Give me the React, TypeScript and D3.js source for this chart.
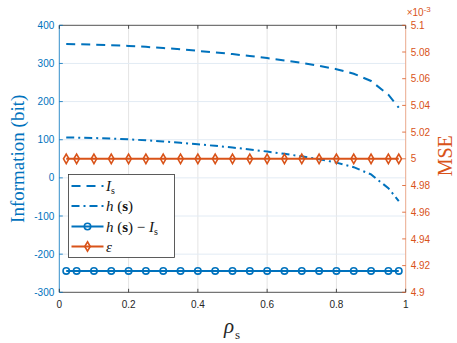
import React from 'react';
import * as d3 from 'd3';

// correlation coefficient samples
const rho = [0.02, 0.05, 0.1, 0.15, 0.2, 0.25, 0.3, 0.35, 0.4, 0.45, 0.5, 0.55, 0.6, 0.65, 0.7, 0.75, 0.8, 0.85, 0.9, 0.95, 0.98];
// I_s (bit)
const infoS = [351, 350.5, 349.5, 348, 346, 343.5, 340.5, 337, 333, 329, 324.5, 319.5, 314, 308, 301.5, 294, 285, 273, 254, 218, 184];
// h(s) (bit)
const entropyS = [106, 105.5, 104.5, 103, 101, 98.5, 95.5, 92, 88, 84, 79.5, 74.5, 69, 63, 56.5, 49, 40, 28, 9, -27, -61];
// h(s) - I_s (bit)
const diffS = [-244, -244, -244, -244, -244, -244, -244, -244, -244, -244, -244, -244, -244, -244, -244, -244, -244, -244, -244, -244, -244];
// MSE epsilon
const mse = [0.005, 0.005, 0.005, 0.005, 0.005, 0.005, 0.005, 0.005, 0.005, 0.005, 0.005, 0.005, 0.005, 0.005, 0.005, 0.005, 0.005, 0.005, 0.005, 0.005, 0.005];

const xTicks = [0, 0.2, 0.4, 0.6, 0.8, 1];
const leftTicks = [-300, -200, -100, 0, 100, 200, 300, 400];
const rightTicks = [4.9, 4.92, 4.94, 4.96, 4.98, 5, 5.02, 5.04, 5.06, 5.08, 5.1];

const BLUE = '#0072BD';
const ORANGE = '#D95319';
const AX = '#262626';
const SANS = '"Liberation Sans", Arial, Helvetica, sans-serif';
const SERIF = '"Liberation Serif", "Times New Roman", serif';

export default function App() {
  const W = 457, H = 343;
  const x0 = 59.3, x1 = 405.7, y0 = 292.3, y1 = 25.3;

  const x = d3.scaleLinear().domain([0, 1]).range([x0, x1]);
  const yL = d3.scaleLinear().domain([-300, 400]).range([y0, y1]);
  const yR = d3.scaleLinear().domain([4.9e-3, 5.1e-3]).range([y0, y1]);

  const lineL = (vals: number[]) =>
    d3.line<number>().x((_, i) => x(rho[i])).y(d => yL(d))(vals) || '';
  const lineR = (vals: number[]) =>
    d3.line<number>().x((_, i) => x(rho[i])).y(d => yR(d))(vals) || '';

  const diamond = d3.symbol(d3.symbolDiamond, 26)() || '';
  const tl = 3.5;

  const legendRows = [175 + 11, 175 + 31, 175 + 51.5, 175 + 71.5];
  const lgX0 = 71.5, lgX1 = 103.5, lgMid = (lgX0 + lgX1) / 2, lgText = 106;

  return (
    <svg width={W} height={H} style={{ position: 'absolute', left: 0, top: 0, background: '#fff' }}>
      {/* grid */}
      <g>
        {xTicks.slice(1, -1).map(t => (
          <line key={'gx' + t} x1={x(t)} x2={x(t)} y1={y0} y2={y1} stroke="#e4e4e4" strokeWidth={1} />
        ))}
        {leftTicks.slice(1, -1).map(t => (
          <line key={'gy' + t} x1={x0} x2={x1} y1={yL(t)} y2={yL(t)} stroke="#e2ebf4" strokeWidth={1} />
        ))}
      </g>

      {/* series */}
      <path d={lineL(infoS)} fill="none" stroke={BLUE} strokeWidth={2} strokeDasharray="9,6" />
      <path d={lineL(entropyS)} fill="none" stroke={BLUE} strokeWidth={2} strokeDasharray="8,4,2,4" />
      <path d={lineL(diffS)} fill="none" stroke={BLUE} strokeWidth={2} />
      {diffS.map((d, i) => (
        <circle key={'c' + i} cx={x(rho[i])} cy={yL(d)} r={3.2} fill="none" stroke={BLUE} strokeWidth={1.6} />
      ))}
      <path d={lineR(mse)} fill="none" stroke={ORANGE} strokeWidth={2} />
      {mse.map((d, i) => (
        <path key={'d' + i} d={diamond} transform={`translate(${x(rho[i])},${yR(d)})`} fill="none" stroke={ORANGE} strokeWidth={1.6} />
      ))}

      {/* axes box */}
      <line x1={x0} x2={x1} y1={y1} y2={y1} stroke={AX} strokeWidth={0.8} />
      <line x1={x0} x2={x1} y1={y0} y2={y0} stroke={AX} strokeWidth={0.8} />
      <line x1={x0} x2={x0} y1={y0} y2={y1} stroke={BLUE} strokeWidth={0.8} />
      <line x1={x1} x2={x1} y1={y0} y2={y1} stroke="#eaa98d" strokeWidth={1} />

      {/* x ticks */}
      {xTicks.map(t => (
        <g key={'xt' + t}>
          <line x1={x(t)} x2={x(t)} y1={y0} y2={y0 - tl} stroke={AX} strokeWidth={0.8} />
          <line x1={x(t)} x2={x(t)} y1={y1} y2={y1 + tl} stroke={AX} strokeWidth={0.8} />
          <text x={x(t)} y={y0 + 15.5} textAnchor="middle" fontFamily={SANS} fontSize={10} fill={AX}>{String(t)}</text>
        </g>
      ))}

      {/* left ticks */}
      {leftTicks.map(t => (
        <g key={'lt' + t}>
          <line x1={x0} x2={x0 + tl} y1={yL(t)} y2={yL(t)} stroke={BLUE} strokeWidth={0.8} />
          <text x={x0 - 5} y={yL(t) + 3.6} textAnchor="end" fontFamily={SANS} fontSize={10} fill={BLUE}>{String(t)}</text>
        </g>
      ))}

      {/* right ticks */}
      {rightTicks.map(t => (
        <g key={'rt' + t}>
          <line x1={x1} x2={x1 - tl} y1={yR(t / 1000)} y2={yR(t / 1000)} stroke={ORANGE} strokeWidth={0.8} />
          <text x={x1 + 5} y={yR(t / 1000) + 3.6} textAnchor="start" fontFamily={SANS} fontSize={10} fill={ORANGE}>{d3.format('~g')(t)}</text>
        </g>
      ))}
      <text x={x1 + 1} y={y1 - 9} fontFamily={SANS} fontSize={10} fill={ORANGE}>
        ×10<tspan dy={-4} fontSize={8}>-3</tspan>
      </text>

      {/* axis labels */}
      <text transform={`translate(24,${(y0 + y1) / 2}) rotate(-90)`} textAnchor="middle" fontFamily={SERIF} fontSize={19} fill={BLUE}>
        Information (bit)
      </text>
      <text transform={`translate(452,${(y0 + y1) / 2 - 3}) rotate(-90)`} textAnchor="middle" fontFamily={SERIF} fontSize={20} fill={ORANGE}>
        MSE
      </text>
      <text x={224} y={333} fontFamily={SERIF} fontSize={21} fontStyle="italic" fill={AX}>
        ρ<tspan dx={1} dy={6} fontSize={13} fontStyle="normal">s</tspan>
      </text>

      {/* legend */}
      <rect x={68.5} y={174.5} width={106} height={83} fill="#fff" stroke="#333" strokeWidth={0.8} />
      <line x1={lgX0} x2={lgX1} y1={legendRows[0]} y2={legendRows[0]} stroke={BLUE} strokeWidth={2} strokeDasharray="9,6" />
      <line x1={lgX0} x2={lgX1} y1={legendRows[1]} y2={legendRows[1]} stroke={BLUE} strokeWidth={2} strokeDasharray="8,4,2,4" />
      <line x1={lgX0} x2={lgX1} y1={legendRows[2]} y2={legendRows[2]} stroke={BLUE} strokeWidth={2} />
      <circle cx={lgMid} cy={legendRows[2]} r={3.2} fill="none" stroke={BLUE} strokeWidth={1.6} />
      <line x1={lgX0} x2={lgX1} y1={legendRows[3]} y2={legendRows[3]} stroke={ORANGE} strokeWidth={2} />
      <path d={diamond} transform={`translate(${lgMid},${legendRows[3]})`} fill="none" stroke={ORANGE} strokeWidth={1.6} />

      <g fontFamily={SERIF} fontSize={15} fill="#111">
        <text x={lgText} y={legendRows[0] + 5}>
          <tspan fontStyle="italic">I</tspan><tspan fontSize={10} dy={3}>s</tspan>
        </text>
        <text x={lgText} y={legendRows[1] + 5}>
          <tspan fontStyle="italic">h</tspan> (<tspan fontWeight="bold">s</tspan>)
        </text>
        <text x={lgText} y={legendRows[2] + 5}>
          <tspan fontStyle="italic">h</tspan> (<tspan fontWeight="bold">s</tspan>) − <tspan fontStyle="italic">I</tspan><tspan fontSize={10} dy={3}>s</tspan>
        </text>
        <text x={lgText} y={legendRows[3] + 5}>
          <tspan fontStyle="italic">ε</tspan>
        </text>
      </g>
    </svg>
  );
}
